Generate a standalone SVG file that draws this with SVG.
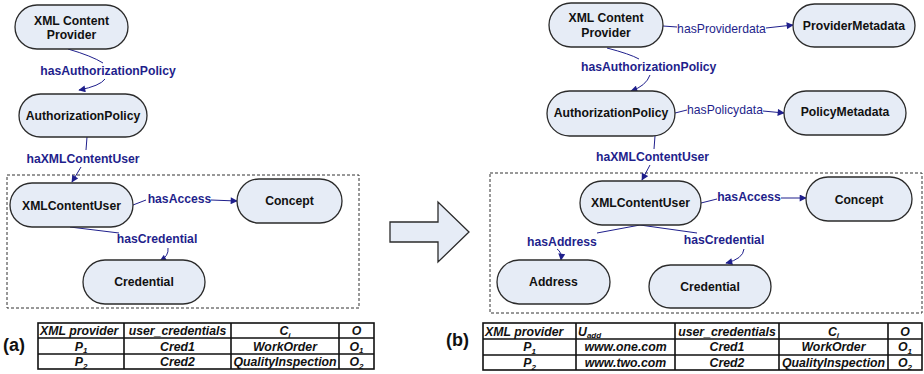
<svg xmlns="http://www.w3.org/2000/svg" width="924" height="374" viewBox="0 0 924 374">
<defs>
<style>
.node rect{fill:#e6ecf6;stroke:#2b2b2b;stroke-width:1.3}
.nt{font-family:"Liberation Sans",Arial,sans-serif;font-weight:bold;font-size:12.2px;fill:#111;text-anchor:middle}
.el{font-family:"Liberation Sans",Arial,sans-serif;font-weight:bold;font-size:12.2px;fill:#1f1f8c;text-anchor:middle}
.eln{font-family:"Liberation Sans",Arial,sans-serif;font-size:12.2px;fill:#1f1f8c;text-anchor:middle}
.edge{fill:none;stroke:#1f1f8c;stroke-width:1}
.arr{marker-end:url(#ah)}
.box{fill:none;stroke:#333;stroke-width:1;stroke-dasharray:3 2}
.tbl{fill:none;stroke:#111;stroke-width:1.6}
.tt{font-family:"Liberation Sans",Arial,sans-serif;font-weight:bold;font-style:italic;font-size:12.3px;fill:#111;text-anchor:middle}
.tl{text-anchor:start}
.pl{font-family:"Liberation Sans",Arial,sans-serif;font-weight:bold;font-size:18px;fill:#111}
</style>
<marker id="ah" viewBox="0 0 10 10" refX="9" refY="5" markerUnits="userSpaceOnUse" markerWidth="8" markerHeight="7" orient="auto">
<path d="M0,0 L10,5 L0,10 z" fill="#1f1f8c"/>
</marker>
</defs>
<rect width="924" height="374" fill="#fff"/>

<!-- dashed boxes -->
<rect class="box" x="7" y="175" width="352" height="133"/>
<rect class="box" x="490" y="173" width="432" height="140"/>

<!-- middle arrow -->
<polygon points="390,222 438,222 438,202 469,232 438,262 438,242 390,242" fill="#e6ecf6" stroke="#2b2b2b" stroke-width="1.3"/>

<!-- connectors -->
<g id="connectors">
<path class="edge" d="M68,49 Q92,56 103,63"/>
<path class="edge arr" d="M105,79 Q100,86 79,90"/>
<path class="edge" d="M87,137 L86,150"/>
<path class="edge arr" d="M81,167 L72,182"/>
<path class="edge" d="M133,205 L146,200"/>
<path class="edge arr" d="M211,200 L237,201"/>
<path class="edge" d="M70,227 L119,233"/>
<path class="edge arr" d="M168,248 Q169,256 160,261"/>

<path class="edge" d="M663,26 L677,27"/>
<path class="edge arr" d="M766,28 L793,25"/>
<path class="edge" d="M607,48 Q630,54 639,59"/>
<path class="edge arr" d="M650,75 Q646,86 631,91"/>
<path class="edge" d="M675,113 L687,110"/>
<path class="edge arr" d="M763,111 L784,113"/>
<path class="edge" d="M655,136 L654,149"/>
<path class="edge arr" d="M650,165 L642,180"/>
<path class="edge" d="M701,203 L717,199"/>
<path class="edge arr" d="M781,198 L806,198"/>
<path class="edge" d="M640,225 L597,233"/>
<path class="edge arr" d="M557,249 Q562,252 561,260"/>
<path class="edge" d="M640,225 L697,233"/>
<path class="edge arr" d="M744,249 Q743,259 726,263"/>

<text class="el" x="108" y="75">hasAuthorizationPolicy</text>
<text class="el" x="83" y="162.5">haXMLContentUser</text>
<text class="el" x="179.5" y="202.5">hasAccess</text>
<text class="el" x="157" y="243">hasCredential</text>

<text class="eln" x="721.5" y="32.5">hasProviderdata</text>
<text class="el" x="648.7" y="70.5">hasAuthorizationPolicy</text>
<text class="eln" x="725" y="114">hasPolicydata</text>
<text class="el" x="652.5" y="160.5">haXMLContentUser</text>
<text class="el" x="749" y="200.5">hasAccess</text>
<text class="el" x="562" y="245.5">hasAddress</text>
<text class="el" x="724" y="244">hasCredential</text>
</g>

<!-- left nodes -->
<g id="a-provider" class="node"><rect x="15" y="5" width="113" height="44" rx="22"/><text class="nt" x="71.5" y="24.5">XML Content</text><text class="nt" x="71.5" y="39">Provider</text></g>
<g id="a-policy" class="node"><rect x="19" y="94" width="128" height="43" rx="21.5"/><text class="nt" x="83" y="120">AuthorizationPolicy</text></g>
<g id="a-user" class="node"><rect x="10" y="183" width="123" height="44" rx="22"/><text class="nt" x="71.5" y="209.5">XMLContentUser</text></g>
<g id="a-concept" class="node"><rect x="237" y="179" width="105" height="44" rx="22"/><text class="nt" x="289.5" y="205">Concept</text></g>
<g id="a-credential" class="node"><rect x="83" y="260" width="122" height="44" rx="22"/><text class="nt" x="144" y="286">Credential</text></g>

<!-- right nodes -->
<g id="b-provider" class="node"><rect x="549" y="3" width="114" height="44" rx="22"/><text class="nt" x="606" y="22">XML Content</text><text class="nt" x="606" y="37">Provider</text></g>
<g id="b-providermeta" class="node"><rect x="793" y="4" width="122" height="43" rx="21.5"/><text class="nt" x="854" y="29.5">ProviderMetadata</text></g>
<g id="b-policy" class="node"><rect x="547" y="91" width="128" height="45" rx="22.5"/><text class="nt" x="611" y="117">AuthorizationPolicy</text></g>
<g id="b-policymeta" class="node"><rect x="784" y="91" width="122" height="44" rx="22"/><text class="nt" x="845" y="116">PolicyMetadata</text></g>
<g id="b-user" class="node"><rect x="580" y="181" width="121" height="44" rx="22"/><text class="nt" x="640.5" y="207">XMLContentUser</text></g>
<g id="b-concept" class="node"><rect x="806" y="177" width="106" height="44" rx="22"/><text class="nt" x="859" y="203.5">Concept</text></g>
<g id="b-address" class="node"><rect x="497" y="260" width="113" height="44" rx="22"/><text class="nt" x="553.5" y="286">Address</text></g>
<g id="b-credential" class="node"><rect x="649" y="265" width="122" height="43" rx="21.5"/><text class="nt" x="710" y="291">Credential</text></g>

<!-- table a -->
<g id="table-a">
<text class="pl" x="3" y="351">(a)</text>
<rect class="tbl" x="38" y="323" width="336" height="46"/>
<path class="tbl" d="M38,338H374M38,354H374M124,323V369M231,323V369M339,323V369"/>
<text class="tt tl" x="40" y="335">XML provider</text>
<text class="tt" x="177.5" y="335">user_credentials</text>
<text class="tt" x="285" y="335">C<tspan font-size="8" dy="2.5">i</tspan></text>
<text class="tt" x="356.5" y="335">O</text>
<text class="tt" x="81" y="350.5">P<tspan font-size="8" dy="2.5">1</tspan></text>
<text class="tt" x="177.5" y="350.5">Cred1</text>
<text class="tt" x="285" y="350.5">WorkOrder</text>
<text class="tt" x="356.5" y="350.5">O<tspan font-size="8" dy="2.5">1</tspan></text>
<text class="tt" x="81" y="366">P<tspan font-size="8" dy="2.5">2</tspan></text>
<text class="tt" x="177.5" y="366">Cred2</text>
<text class="tt" x="285" y="366">QualityInspection</text>
<text class="tt" x="356.5" y="366">O<tspan font-size="8" dy="2.5">2</tspan></text>
</g>

<!-- table b -->
<g id="table-b">
<text class="pl" x="446" y="346">(b)</text>
<rect class="tbl" x="483" y="323" width="439" height="47"/>
<path class="tbl" d="M483,339H922M483,355H922M576,323V370M675,323V370M779,323V370M888,323V370"/>
<text class="tt tl" x="485" y="335.5">XML provider</text>
<text class="tt tl" x="578" y="335.5">U<tspan font-size="8" dy="2.5">add</tspan></text>
<text class="tt" x="727" y="335.5">user_credentials</text>
<text class="tt" x="833.5" y="335.5">C<tspan font-size="8" dy="2.5">i</tspan></text>
<text class="tt" x="905" y="335.5">O</text>
<text class="tt" x="529.5" y="351">P<tspan font-size="8" dy="2.5">1</tspan></text>
<text class="tt" x="625.5" y="351">www.one.com</text>
<text class="tt" x="727" y="351">Cred1</text>
<text class="tt" x="833.5" y="351">WorkOrder</text>
<text class="tt" x="905" y="351">O<tspan font-size="8" dy="2.5">1</tspan></text>
<text class="tt" x="529.5" y="367">P<tspan font-size="8" dy="2.5">2</tspan></text>
<text class="tt" x="625.5" y="367">www.two.com</text>
<text class="tt" x="727" y="367">Cred2</text>
<text class="tt" x="833.5" y="367">QualityInspection</text>
<text class="tt" x="905" y="367">O<tspan font-size="8" dy="2.5">2</tspan></text>
</g>
</svg>
